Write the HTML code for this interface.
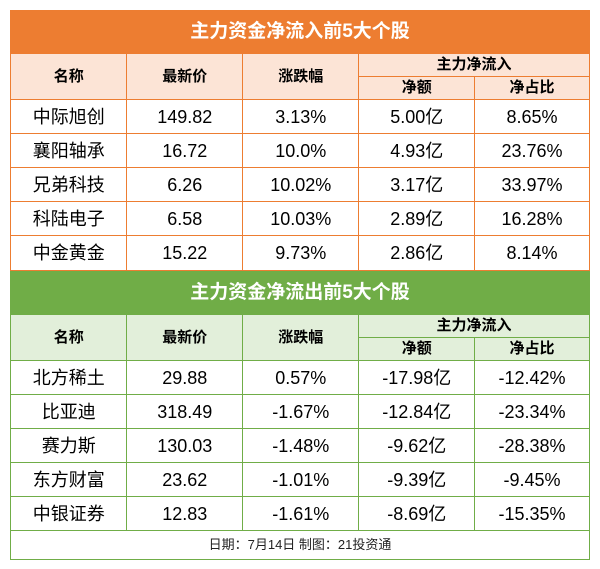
<!DOCTYPE html>
<html><head><meta charset="utf-8"><style>
body{margin:0;width:600px;height:569px;background:#fff;position:relative;font-family:"Liberation Sans","Noto Sans CJK SC",sans-serif;overflow:hidden}
.c{position:absolute;box-sizing:border-box;display:flex;align-items:center;justify-content:center;color:#000;line-height:20px}
.t{color:#fff;font-weight:bold;font-size:19px}
.h{font-weight:bold;font-size:15px}
.d{font-size:18px}
.f{font-size:13px;color:#222}
</style></head><body>
<div id="root"></div>
<script>
const root=document.getElementById('root');
const inflowNames=['中际旭创','襄阳轴承','兄弟科技','科陆电子','中金黄金'];
const inflowPrice=['149.82','16.72','6.26','6.58','15.22'];
const inflowChg=['3.13%','10.0%','10.02%','10.03%','9.73%'];
const inflowAmt=['5.00亿','4.93亿','3.17亿','2.89亿','2.86亿'];
const inflowPct=['8.65%','23.76%','33.97%','16.28%','8.14%'];
const outflowNames=['北方稀土','比亚迪','赛力斯','东方财富','中银证券'];
const outflowPrice=['29.88','318.49','130.03','23.62','12.83'];
const outflowChg=['0.57%','-1.67%','-1.48%','-1.01%','-1.61%'];
const outflowAmt=['-17.98亿','-12.84亿','-9.62亿','-9.39亿','-8.69亿'];
const outflowPct=['-12.42%','-23.34%','-28.38%','-9.45%','-15.35%'];
const X=[10,126,242,358,474,590];
function cell(x,y,w,h,txt,cls,bg,bc,name){
  const d=document.createElement('div');
  d.className='c '+cls;
  d.style.left=x+'px';d.style.top=y+'px';d.style.width=w+'px';d.style.height=h+'px';
  if(bg)d.style.background=bg;
  d.style.border='1.5px solid '+bc;
  d.textContent=txt;
  
  
  root.appendChild(d);return d;
}
function table(top,title,main,light,cols,prefix){
  cell(10,top,580,44,title,'t',main,main,prefix+'-title');
  const hy=top+43;
  const hd=['名称','最新价','涨跌幅'];
  for(let i=0;i<3;i++)cell(X[i],hy,X[i+1]-X[i]+1.5,47,hd[i],'h',light,main,prefix+'-header-'+i);
  cell(X[3],hy,232,24,'主力净流入','h',light,main,prefix+'-header-group');
  cell(X[3],hy+23,117.5,24,'净额','h',light,main,prefix+'-header-amount');
  cell(X[4],hy+23,116,24,'净占比','h',light,main,prefix+'-header-ratio');
  const ry=hy+46;
  for(let r=0;r<5;r++){
    for(let c=0;c<5;c++){
      const w=X[c+1]-X[c]+(c<4?1.5:0);
      cell(X[c],ry+r*34,w,35.5,cols[c][r],'d','#fff',main,prefix+'-row'+r+'-col'+c);
    }
  }
  return ry+170;
}
table(10,'主力资金净流入前5大个股','#ED7D31','#FCE4D6',[inflowNames,inflowPrice,inflowChg,inflowAmt,inflowPct],'inflow');
const end=table(271,'主力资金净流出前5大个股','#70AD47','#E2EFDA',[outflowNames,outflowPrice,outflowChg,outflowAmt,outflowPct],'outflow');
cell(10,end,580,29.5,'日期：7月14日 制图：21投资通','f','#fff','#70AD47','footer-note');
</script>
</body></html>
